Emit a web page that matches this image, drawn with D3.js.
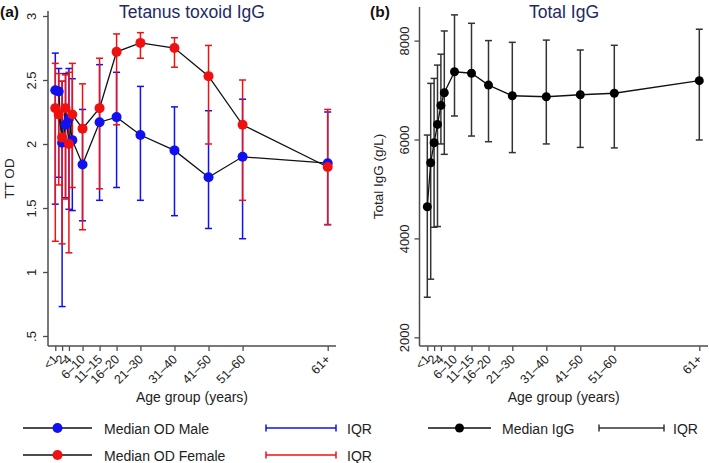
<!DOCTYPE html>
<html><head><meta charset="utf-8">
<script src="https://cdn.jsdelivr.net/npm/d3@7"></script>
<style>
body{margin:0;background:#fff;}
svg{display:block;font-family:"Liberation Sans",Arial,Helvetica,sans-serif;}
</style></head>
<body><svg id="c" width="709" height="463"></svg>
<script>
// ---- data ----
const ages = [0,1,2,3,4,5,8,13,18,25,35,45,55,80];
const tickAges = [0,2,4,8,13,18,25,35,45,55,80];
const tickLabels = ["<1","2","4","6–10","11–15","16–20","21–30","31–40","41–50","51–60","61+"];
const maleMedian = [2.42,2.41,2.01,2.15,2.20,2.03,1.84,2.17,2.21,2.07,1.95,1.74,1.90,1.85];
const maleQ1     = [1.53,1.74,0.73,1.58,1.49,1.48,1.40,1.56,1.66,1.56,1.44,1.34,1.26,1.37];
const maleQ3     = [2.71,2.59,2.49,2.55,2.59,2.51,2.27,2.62,2.56,2.45,2.29,2.26,2.35,2.25];
const femaleMedian = [2.28,2.23,2.05,2.28,2.00,2.23,2.12,2.28,2.72,2.79,2.75,2.53,2.15,1.82];
const femaleQ1     = [1.24,1.68,1.22,1.57,1.15,1.66,1.33,1.65,2.15,2.67,2.60,2.00,1.56,1.37];
const femaleQ3     = [2.63,2.55,2.49,2.54,2.56,2.63,2.47,2.67,2.86,2.87,2.83,2.77,2.50,2.27];
const iggMedian = [4640,5530,5935,6305,6690,6945,7370,7340,7100,6885,6865,6905,6935,7190];
const iggQ1     = [2810,3175,4225,4240,5910,5700,6475,6070,5955,5735,5910,5840,5830,5990];
const iggQ3     = [6090,7135,7235,7505,7725,8195,8520,8350,8000,7965,8010,7810,7905,8230];
const odTicks = [0.5,1,1.5,2,2.5,3];
const odTickLabels = [".5","1","1.5","2","2.5","3"];
const igTicks = [2000,4000,6000,8000];

const svg = d3.select("#c");
const axisCol = "#4d4d4d";
const blue = "#1010f0", red = "#f01010", navy = "#1d2a63";

function drawAxes(g, x, y, yTicks, yFmt, axLeft, axRight, axTop, axBottom, yLabX, yTitle, yTitleX) {
  const xa = g.append("g").attr("transform", `translate(0,${axBottom})`)
    .call(d3.axisBottom(x).tickValues(tickAges).tickSize(5).tickFormat((d,i)=>tickLabels[i]));
  xa.select(".domain").remove();
  xa.selectAll(".tick line").attr("stroke", axisCol).attr("stroke-width",1.3);
  xa.selectAll(".tick text").attr("font-size", 12.5).attr("fill","#222")
    .attr("text-anchor","end").attr("y",0).attr("dy",0)
    .attr("transform", "translate(3,14) rotate(-45)");
  g.append("line").attr("x1",axLeft).attr("x2",axRight).attr("y1",axBottom).attr("y2",axBottom)
    .attr("stroke",axisCol).attr("stroke-width",1.5);
  const ya = g.append("g").attr("transform", `translate(${axLeft},0)`)
    .call(d3.axisLeft(y).tickValues(yTicks).tickSize(5).tickFormat(yFmt));
  ya.select(".domain").remove();
  ya.selectAll(".tick line").attr("stroke", axisCol).attr("stroke-width",1.3);
  ya.selectAll(".tick text").attr("font-size",13).attr("fill","#222")
    .attr("x",0).attr("dy",0).attr("text-anchor","middle")
    .attr("transform", `translate(${yLabX - axLeft},0) rotate(-90)`).attr("dominant-baseline","central");
  g.append("line").attr("x1",axLeft).attr("x2",axLeft).attr("y1",axTop).attr("y2",axBottom)
    .attr("stroke",axisCol).attr("stroke-width",1.5);
  g.append("text").attr("transform",`translate(${yTitleX},${(axTop+axBottom)/2}) rotate(-90)`)
    .attr("text-anchor","middle").attr("dominant-baseline","central").attr("font-size",13.5).attr("fill","#222").text(yTitle);
  g.append("text").attr("x",(axLeft+axRight)/2).attr("y",402).attr("text-anchor","middle")
    .attr("font-size",14).attr("fill","#222").text("Age group (years)");
}

function errorBars(g, x, y, lo, hi, color, cap) {
  const gg = g.append("g").attr("stroke",color).attr("stroke-width",1.5);
  ages.forEach((a,i)=>{
    const xx = x(a);
    gg.append("line").attr("x1",xx).attr("x2",xx).attr("y1",y(lo[i])).attr("y2",y(hi[i]));
    gg.append("line").attr("x1",xx-cap).attr("x2",xx+cap).attr("y1",y(lo[i])).attr("y2",y(lo[i]));
    gg.append("line").attr("x1",xx-cap).attr("x2",xx+cap).attr("y1",y(hi[i])).attr("y2",y(hi[i]));
  });
}
function seriesLine(g, x, y, vals, col, w) {
  g.append("path").datum(ages.map((a,i)=>[a,vals[i]]))
    .attr("d", d3.line().x(d=>x(d[0])).y(d=>y(d[1])))
    .attr("fill","none").attr("stroke",col).attr("stroke-width",w);
}
function points(g, x, y, vals, col, r) {
  g.append("g").selectAll("circle").data(ages).join("circle")
    .attr("cx",d=>x(d)).attr("cy",(d,i)=>y(vals[i])).attr("r",r).attr("fill",col);
}

// ---- panel a ----
const ga = svg.append("g");
const xa = d3.scaleLinear().domain([0,80]).range([55.3,327.7]);
const ya = d3.scaleLinear().domain([0.5,3]).range([336,16]);
drawAxes(ga, xa, ya, odTicks, (d,i)=>odTickLabels[i], 48, 336, 11, 346, 31, "TT OD", 9);
errorBars(ga, xa, ya, maleQ1, maleQ3, blue, 3.5);
errorBars(ga, xa, ya, femaleQ1, femaleQ3, red, 3.5);
seriesLine(ga, xa, ya, maleMedian, "#111", 1.3);
seriesLine(ga, xa, ya, femaleMedian, "#111", 1.3);
points(ga, xa, ya, maleMedian, blue, 5);
points(ga, xa, ya, femaleMedian, red, 5);
ga.append("text").attr("x",192).attr("y",18).attr("text-anchor","middle").attr("font-size",17.5).attr("fill",navy).text("Tetanus toxoid IgG");
ga.append("text").attr("x",0).attr("y",17).attr("font-size",15.5).attr("font-weight","bold").attr("fill","#111").text("(a)");

// ---- panel b ----
const gb = svg.append("g");
const xb = d3.scaleLinear().domain([0,80]).range([427.3,699.3]);
const yb = d3.scaleLinear().domain([2000,8000]).range([337.3,40.6]);
drawAxes(gb, xb, yb, igTicks, d=>String(d), 419.5, 708, 7, 346, 404, "Total IgG (g/L)", 378);
errorBars(gb, xb, yb, iggQ1, iggQ3, "#333", 3.5);
seriesLine(gb, xb, yb, iggMedian, "#111", 1.3);
points(gb, xb, yb, iggMedian, "#000", 4.5);
gb.append("text").attr("x",564).attr("y",18).attr("text-anchor","middle").attr("font-size",17.5).attr("fill",navy).text("Total IgG");
gb.append("text").attr("x",370).attr("y",17).attr("font-size",15.5).attr("font-weight","bold").attr("fill","#111").text("(b)");

// ---- legends ----
const lg = svg.append("g").attr("font-size",14).attr("fill","#222");
function legMarker(x1,x2,yy,col,r){
  lg.append("line").attr("x1",x1).attr("x2",x2).attr("y1",yy).attr("y2",yy).attr("stroke","#111").attr("stroke-width",1.3);
  lg.append("circle").attr("cx",(x1+x2)/2).attr("cy",yy).attr("r",r).attr("fill",col);
}
function legIQR(x1,x2,yy,col){
  lg.append("line").attr("x1",x1).attr("x2",x2).attr("y1",yy).attr("y2",yy).attr("stroke",col).attr("stroke-width",1.5);
  [x1,x2].forEach(xx=>lg.append("line").attr("x1",xx).attr("x2",xx).attr("y1",yy-3.5).attr("y2",yy+3.5).attr("stroke",col).attr("stroke-width",1.5));
}
function legText(x,yy,t){ lg.append("text").attr("x",x).attr("y",yy).attr("dominant-baseline","central").text(t); }
legMarker(23,92,428,blue,5); legText(104,429,"Median OD Male");
legIQR(266,336,428,blue); legText(347,429,"IQR");
legMarker(23,92,455,red,5); legText(104,456,"Median OD Female");
legIQR(266,336,455,red); legText(347,456,"IQR");
legMarker(428,491,428,"#000",4.5); legText(502,429,"Median IgG");
legIQR(599,664,428,"#333"); legText(673,429,"IQR");
</script></body></html>
